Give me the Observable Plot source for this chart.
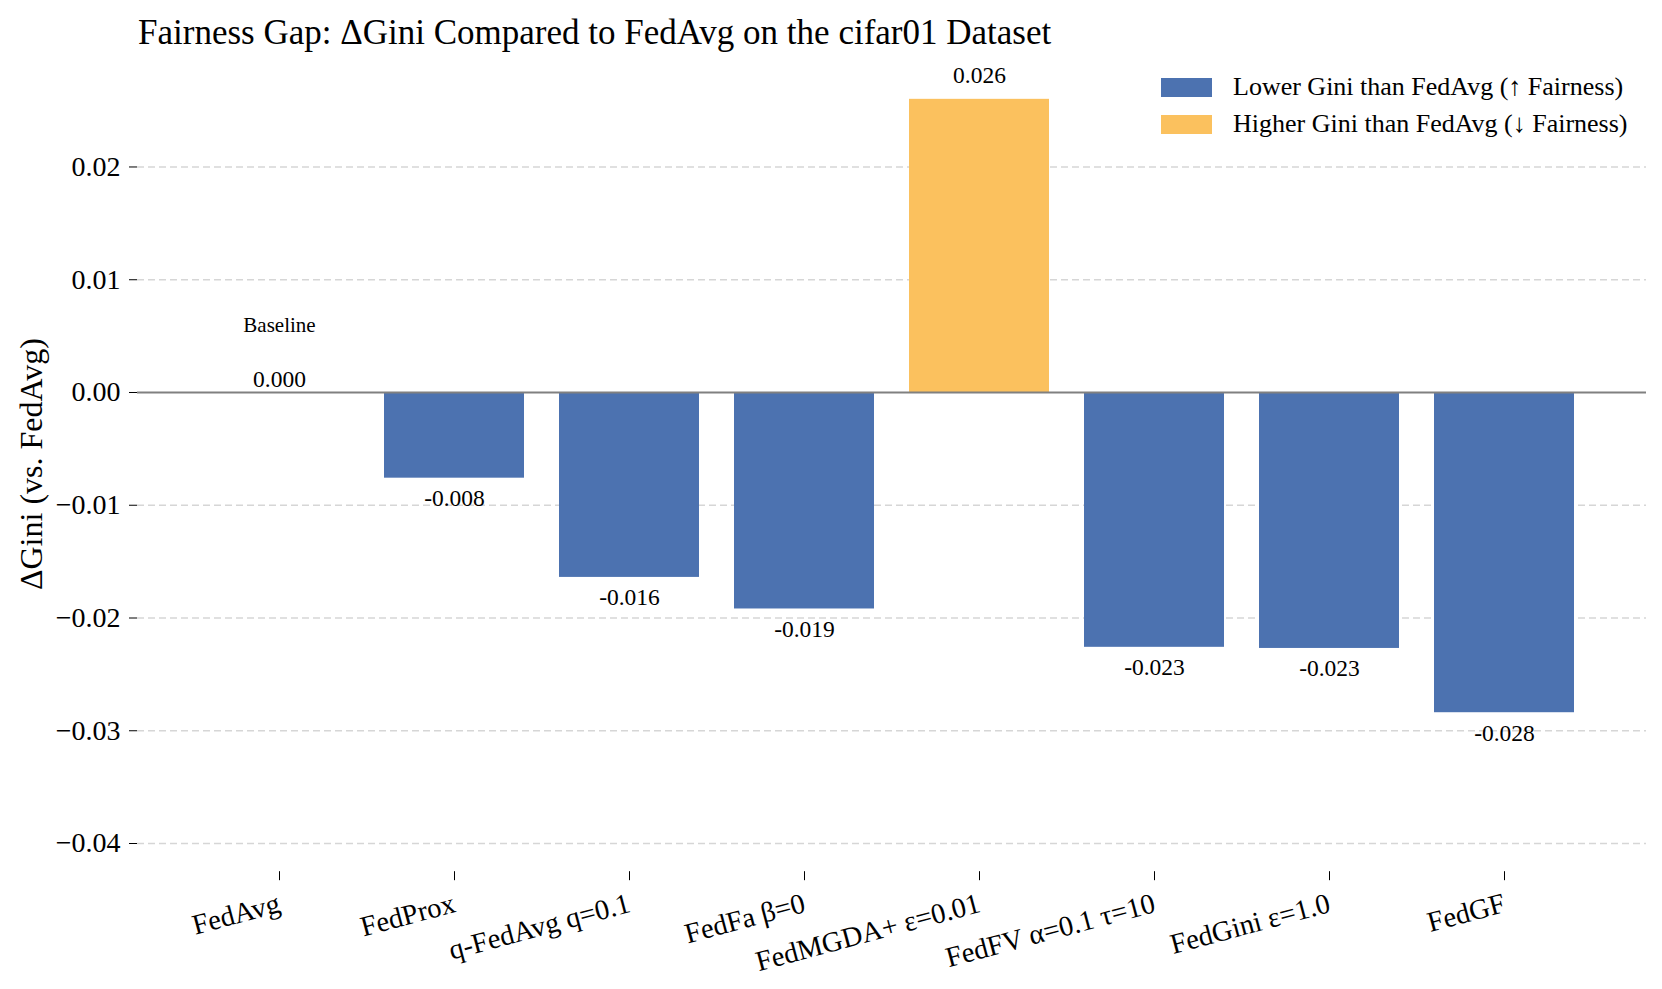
<!DOCTYPE html>
<html>
<head>
<meta charset="utf-8">
<script src="https://cdn.jsdelivr.net/npm/d3@7"></script>
<script src="https://cdn.jsdelivr.net/npm/@observablehq/plot@0.6"></script>
<style>
  body { margin: 0; background: #fff; font-family: "Liberation Serif", "Times New Roman", serif; color: #000; }
  #wrap { position: relative; width: 1662px; height: 989px; overflow: hidden; }
  #title { position: absolute; left: 138px; top: 15px; font-size: 35px; line-height: 35px; white-space: nowrap; }
  #chart { position: absolute; left: 0; top: 56px; }
  .lg-sw { position: absolute; left: 1161px; width: 51px; height: 19px; }
  .lg-tx { position: absolute; left: 1233px; font-size: 26px; line-height: 26px; white-space: nowrap; }
</style>
</head>
<body>
<div id="wrap">
  <div id="title">Fairness Gap: ΔGini Compared to FedAvg on the cifar01 Dataset</div>
  <div id="chart"></div>
  <div id="legend"></div>
</div>
<script>
// ---- data ----
const methods = ["FedAvg", "FedProx", "q-FedAvg q=0.1", "FedFa β=0", "FedMGDA+ ε=0.01", "FedFV α=0.1 τ=10", "FedGini ε=1.0", "FedGF"];
const deltaGini = [0, -0.0076, -0.0164, -0.0192, 0.0260, -0.0226, -0.0227, -0.0284];
const yTicks = [-0.04, -0.03, -0.02, -0.01, 0, 0.01, 0.02];
const legendLabels = ["Lower Gini than FedAvg (↑ Fairness)", "Higher Gini than FedAvg (↓ Fairness)"];
const barColors = ["#4C72B0", "#FBC15E"];
const baselineLabel = "Baseline";
const yLabel = "ΔGini (vs. FedAvg)";

const rows = methods.map((m, i) => ({method: m, value: deltaGini[i]}));
const fmt = d => d.value.toFixed(3);

const font = '"Liberation Serif", "Times New Roman", serif';

const chart = Plot.plot({
  width: 1662,
  height: 933,
  marginLeft: 137,
  marginRight: 16,
  marginTop: 9,
  marginBottom: 117.8,
  style: {fontFamily: font, color: "#000", background: "#fff", overflow: "visible"},
  x: {type: "band", domain: methods, paddingInner: 0.2, paddingOuter: 0.39, align: 0.5},
  y: {domain: [-0.0425, 0.029]},
  color: {type: "identity"},
  marks: [
    Plot.ruleY(yTicks.filter(t => t !== 0), {stroke: "#d6d6d6", strokeWidth: 1.5, strokeDasharray: "7,4"}),
    Plot.barY(rows, {x: "method", y: "value", fill: d => d.value > 0 ? barColors[1] : barColors[0]}),
    Plot.ruleY([0], {stroke: "#808080", strokeWidth: 2}),
    Plot.text(rows.filter(d => d.value > 0), {x: "method", y: "value", text: fmt, lineAnchor: "bottom", dy: -16, fontSize: 23.5}),
    Plot.text(rows.filter(d => d.value < 0), {x: "method", y: "value", text: fmt, lineAnchor: "bottom", dy: 28, fontSize: 23.5}),
    Plot.text(rows.filter(d => d.value === 0), {x: "method", y: "value", text: fmt, lineAnchor: "bottom", dy: -5, fontSize: 23.5}),
    Plot.text(rows.filter(d => d.value === 0), {x: "method", y: "value", text: () => baselineLabel, lineAnchor: "bottom", dy: -60, fontSize: 21}),
    Plot.axisY(yTicks, {tickSize: 8, tickPadding: 9, tickFormat: d3.format(".2f"), fontSize: 28, label: null}),
    Plot.axisX({tickSize: 9, tickFormat: () => "", label: null}),
    Plot.axisX({tickSize: 0, tickPadding: 31, tickRotate: -15, dx: 0, fontSize: 28.5, label: null}),
    Plot.text([yLabel], {frameAnchor: "left", text: d => d, rotate: -90, dx: -106, dy: -4.5, textAnchor: "middle", fontSize: 32})
  ]
});
document.getElementById("chart").appendChild(chart);

// ---- legend ----
const legend = document.getElementById("legend");
const swTops = [77.5, 114.5];
const txTops = [73.7, 110.7];
legendLabels.forEach((lab, i) => {
  const sw = document.createElement("div");
  sw.className = "lg-sw";
  sw.style.top = swTops[i] + "px";
  sw.style.background = barColors[i];
  legend.appendChild(sw);
  const tx = document.createElement("div");
  tx.className = "lg-tx";
  tx.style.top = txTops[i] + "px";
  tx.textContent = lab;
  legend.appendChild(tx);
});
</script>
</body>
</html>
